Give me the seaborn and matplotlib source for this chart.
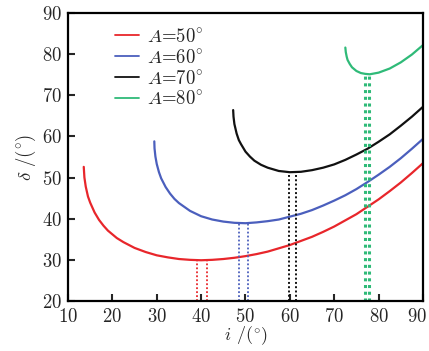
import pandas as pd
import matplotlib
matplotlib.use("Agg")
import matplotlib.pyplot as plt
import matplotlib.transforms as mtransforms
import seaborn as sns

# incidence angle i (deg) and deviation delta (deg)
i_50 = [13.55, 13.7, 14.0, 14.5, 15.0, 16.0, 17.0, 18.0, 19.0, 20.0, 21.0, 22.5, 25.0, 27.5, 30.0,
        32.5, 35.0, 37.5, 40.0, 42.5, 45.0, 47.5, 50.0, 52.5, 55.0, 57.5, 60.0, 62.5, 65.0,
        67.5, 70.0, 72.5, 75.0, 77.5, 80.0, 82.5, 85.0, 87.5, 90.0]
d_50 = [52.6, 50.0, 47.8, 45.4, 43.9, 41.5, 39.7, 38.3, 37.1, 36.2, 35.3, 34.3, 32.9, 31.9, 31.1,
        30.6, 30.2, 30.0, 29.9, 30.0, 30.2, 30.5, 30.9, 31.4, 32.0, 32.8, 33.6, 34.6, 35.6,
        36.8, 38.1, 39.6, 41.1, 42.9, 44.7, 46.7, 48.8, 51.1, 53.5]

i_60 = [29.45, 29.5, 29.7, 30.0, 30.5, 31.0, 32.0, 33.0, 34.0, 35.0, 37.5, 40.0, 42.5, 45.0,
        47.5, 50.0, 52.5, 55.0, 57.5, 60.0, 62.5, 65.0, 67.5, 70.0, 72.5, 75.0, 77.5, 80.0,
        82.5, 85.0, 87.5, 90.0]
d_60 = [58.8, 57.1, 55.1, 53.3, 51.3, 49.8, 47.7, 46.1, 44.8, 43.8, 41.9, 40.6, 39.8, 39.3,
        39.0, 38.9, 39.1, 39.4, 39.8, 40.5, 41.2, 42.1, 43.2, 44.4, 45.7, 47.2, 48.9, 50.7,
        52.6, 54.7, 57.0, 59.4]

i_70 = [47.22, 47.3, 47.5, 48.0, 48.5, 49.0, 50.0, 51.0, 52.0, 53.5, 55.0, 57.5, 60.0, 62.5,
        65.0, 67.5, 70.0, 72.5, 75.0, 77.5, 80.0, 82.5, 85.0, 87.5, 90.0]
d_70 = [66.4, 64.8, 63.0, 60.7, 59.1, 58.1, 56.3, 55.1, 54.1, 53.1, 52.4, 51.6, 51.3, 51.4,
        51.8, 52.4, 53.2, 54.3, 55.6, 57.0, 58.7, 60.5, 62.6, 64.8, 67.2]

i_80 = [72.5, 72.6, 72.8, 73.0, 73.5, 74.0, 75.0, 76.0, 77.0, 78.0, 79.0, 80.0, 82.5, 85.0,
        87.5, 90.0]
d_80 = [81.6, 80.5, 79.4, 78.6, 77.6, 76.8, 75.9, 75.4, 75.2, 75.1, 75.3, 75.5, 76.5, 78.0,
        79.9, 82.2]

labels = ["$A$=50$^{\\circ}$", "$A$=60$^{\\circ}$", "$A$=70$^{\\circ}$", "$A$=80$^{\\circ}$"]
colors = ["#e8262b", "#4b5fbd", "#111111", "#2fba78"]

# dotted markers under each minimum: x positions and top value
red_marks, red_top = [39.1, 41.4], 30.0
blue_marks, blue_top = [48.6, 50.6], 38.9
black_marks, black_top = [59.9, 61.3], 51.3
green_marks, green_top = [76.9, 77.8], 75.1

frames = []
for lab, xs, ys in zip(labels, [i_50, i_60, i_70, i_80], [d_50, d_60, d_70, d_80]):
    frames.append(pd.DataFrame({"i": xs, "delta": ys, "prism": lab}))
df = pd.concat(frames, ignore_index=True)

sns.set_theme(style="ticks")
plt.rcParams["font.family"] = ["cmr10", "DejaVu Serif"]
plt.rcParams["mathtext.fontset"] = "cm"
plt.rcParams["axes.formatter.use_mathtext"] = True
plt.rcParams["axes.unicode_minus"] = False

fig = plt.figure(figsize=(4.29, 3.51), dpi=100)
ax = fig.add_axes([0.1585, 0.1425, 0.8275, 0.8205])

sns.lineplot(data=df, x="i", y="delta", hue="prism", palette=colors,
             sort=False, estimator=None, lw=1.6, ax=ax)

marks = [(red_marks, red_top, 1.3), (blue_marks, blue_top, 1.3),
         (black_marks, black_top, 1.4), (green_marks, green_top, 2.2)]
for (xs, top, lw), col in zip(marks, colors):
    for xv in xs:
        ax.plot([xv, xv], [20, top], color=col, lw=lw, ls=(0, (1, 1.2)))

ax.set_xlim(10, 90)
ax.set_ylim(20, 90)
ax.set_xticks(range(10, 91, 10))
ax.set_yticks(range(20, 91, 10))
ax.set_xlabel("$i$ /($^{\\circ}$)", fontsize=13, labelpad=-1)
ax.set_ylabel("$\\delta$ /($^{\\circ}$)", fontsize=13.5, labelpad=3)
ax.tick_params(direction="in", length=5, width=1.5, labelsize=13.5,
               top=False, right=False)
ax.tick_params(axis="x", pad=5)
ax.tick_params(axis="y", pad=4)
for sp in ax.spines.values():
    sp.set_linewidth(1.6)
    sp.set_color("black")

# last x label sits slightly left so it stays inside the image
last = ax.get_xticklabels()[-1]
last.set_transform(last.get_transform() +
                   mtransforms.ScaledTranslation(-0.06, 0, fig.dpi_scale_trans))

leg = ax.legend(loc="upper left", bbox_to_anchor=(0.09, 1.0), frameon=False,
                fontsize=13.5, handlelength=1.3, handletextpad=0.4,
                labelspacing=0.15, borderpad=0.3)
for line in leg.get_lines():
    line.set_linewidth(1.3)

fig.savefig("out.png", dpi=100)
